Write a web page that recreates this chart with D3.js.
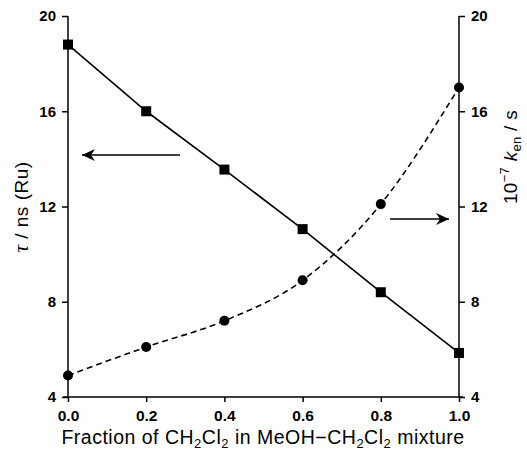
<!DOCTYPE html>
<html><head><meta charset="utf-8">
<script src="https://cdn.jsdelivr.net/npm/d3@7"></script>
<style>body{margin:0;background:#fff}svg{display:block}text{font-family:"Liberation Sans",Arial,sans-serif}</style>
</head><body><svg id="c" width="527" height="460"></svg>
<script>
const fractions = [0.0, 0.2, 0.4, 0.6, 0.8, 1.0];
const tauValues = [18.8, 16.0, 13.55, 11.05, 8.4, 5.85];
const kenValues = [4.9, 6.1, 7.2, 8.9, 12.1, 17.0];
const xTicks = [0, 0.2, 0.4, 0.6, 0.8, 1.0];
const yTicks = [4, 8, 12, 16, 20];

const svg = d3.select("#c");
const x = d3.scaleLinear().domain([0, 1]).range([68, 459]);
const yL = d3.scaleLinear().domain([4, 20]).range([397, 16]);
const yR = d3.scaleLinear().domain([4, 20]).range([397, 16]);

const gx = svg.append("g").attr("transform", "translate(0,397)");
gx.call(d3.axisBottom(x).tickValues(d3.range(0.1, 1, 0.2)).tickSize(3).tickFormat(""));
gx.call(d3.axisBottom(x).tickValues(xTicks).tickSize(5).tickFormat(d3.format(".1f")));
gx.select(".domain").attr("d", "M63,0H463");
gx.selectAll("text").attr("font-size", 15.5).attr("font-weight", "bold").attr("dy", "1.05em");
gx.selectAll("line,path").attr("stroke", "#000").attr("stroke-width", 1.5);

const gl = svg.append("g").attr("transform", "translate(68,0)");
gl.call(d3.axisLeft(yL).tickValues([6, 10, 14, 18]).tickSize(4).tickFormat(""));
gl.call(d3.axisLeft(yL).tickValues(yTicks).tickSize(6).tickFormat(d3.format("d")));
gl.select(".domain").attr("d", "M0,16V397");
gl.selectAll("text").attr("font-size", 15).attr("font-weight", "bold").attr("dx", "-0.2em");
gl.selectAll("line,path").attr("stroke", "#000").attr("stroke-width", 1.5);

const rightMinor = d3.range(4, 20.01, 0.8).filter(v => Math.abs(v / 4 - Math.round(v / 4)) > 0.01);
const gr = svg.append("g").attr("transform", "translate(459,0)");
gr.call(d3.axisRight(yR).tickValues(rightMinor).tickSize(4).tickFormat(""));
gr.call(d3.axisRight(yR).tickValues(yTicks).tickSize(6).tickFormat(d3.format("d")));
gr.select(".domain").attr("d", "M0,16V397");
gr.selectAll("text").attr("font-size", 15).attr("font-weight", "bold").attr("dx", "0.2em");
gr.selectAll("line,path").attr("stroke", "#000").attr("stroke-width", 1.5);

const tauData = fractions.map((f, i) => [f, tauValues[i]]);
svg.append("path").datum(tauData)
  .attr("d", d3.line().x(d => x(d[0])).y(d => yL(d[1])))
  .attr("fill", "none").attr("stroke", "#000").attr("stroke-width", 1.6);
svg.selectAll("rect.sq").data(tauData).join("rect").attr("class", "sq")
  .attr("x", d => x(d[0]) - 5).attr("y", d => yL(d[1]) - 5)
  .attr("width", 10).attr("height", 10).attr("fill", "#000");

const kenData = fractions.map((f, i) => [f, kenValues[i]]);
svg.append("path").datum(kenData)
  .attr("d", d3.line().x(d => x(d[0])).y(d => yR(d[1])).curve(d3.curveMonotoneX))
  .attr("fill", "none").attr("stroke", "#000").attr("stroke-width", 1.6)
  .attr("stroke-dasharray", "6,4");
svg.selectAll("circle.ci").data(kenData).join("circle").attr("class", "ci")
  .attr("cx", d => x(d[0])).attr("cy", d => yR(d[1])).attr("r", 5).attr("fill", "#000");

function arrow(x1, x2, yv) {
  svg.append("line").attr("x1", x1).attr("x2", x2).attr("y1", yv).attr("y2", yv)
    .attr("stroke", "#000").attr("stroke-width", 1.6);
  const dir = Math.sign(x2 - x1);
  const p = d3.path();
  p.moveTo(x2, yv);
  p.lineTo(x2 - dir * 13, yv - 6);
  p.lineTo(x2 - dir * 9, yv);
  p.lineTo(x2 - dir * 13, yv + 6);
  p.closePath();
  svg.append("path").attr("d", p.toString()).attr("fill", "#000");
}
arrow(180, 82, 155);
arrow(390, 449, 219);

svg.append("text").attr("x", 263).attr("y", 444).attr("text-anchor", "middle").attr("font-size", 19.5)
  .attr("letter-spacing", 0.5)
  .html('Fraction of CH<tspan font-size="13" dy="4">2</tspan><tspan dy="-4">Cl</tspan><tspan font-size="13" dy="4">2</tspan><tspan dy="-4"> in MeOH\u2212CH</tspan><tspan font-size="13" dy="4">2</tspan><tspan dy="-4">Cl</tspan><tspan font-size="13" dy="4">2</tspan><tspan dy="-4"> mixture</tspan>');

svg.append("text").attr("transform", "translate(28,207) rotate(-90)").attr("text-anchor", "middle")
  .attr("font-size", 19).attr("letter-spacing", 0.5)
  .html('<tspan font-style="italic" font-family="Liberation Serif, serif" font-size="21">\u03c4</tspan> / ns (Ru)');

svg.append("text").attr("transform", "translate(517,157) rotate(-90)").attr("text-anchor", "middle")
  .attr("font-size", 19).attr("letter-spacing", 0.3)
  .html('10<tspan font-size="13" dy="-8">\u22127</tspan><tspan dy="8"> </tspan><tspan font-style="italic">k</tspan><tspan font-size="13" dy="4">en</tspan><tspan dy="-4"> / s</tspan>');
</script></body></html>
